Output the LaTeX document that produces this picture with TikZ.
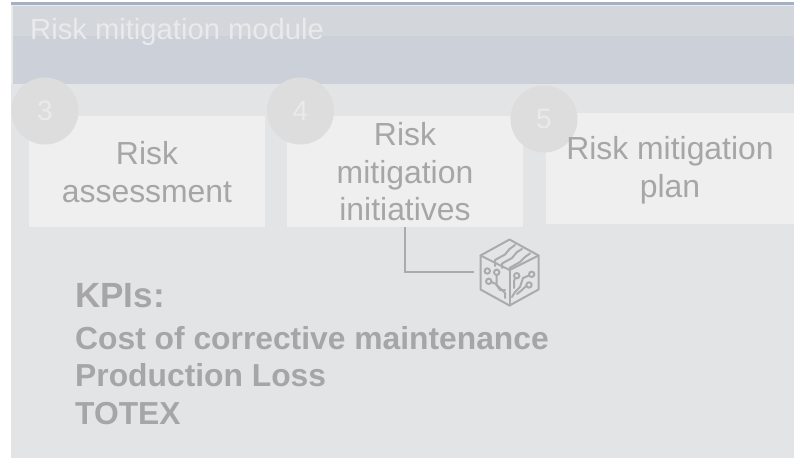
\documentclass[tikz,border=0pt]{standalone}
\usepackage{fontspec}
\setmainfont{Liberation Sans}
\definecolor{bodybg}{HTML}{E3E4E6}
\definecolor{bandA}{HTML}{D3D6DB}
\definecolor{bandB}{HTML}{CCD1D9}
\definecolor{topline}{HTML}{A5B1C0}
\definecolor{boxbg}{HTML}{EFEFEF}
\definecolor{circ}{HTML}{DDDDDD}
\definecolor{txt}{HTML}{A6A6A6}
\definecolor{pale}{HTML}{E9EAEC}
\definecolor{ico}{HTML}{ABABAB}
\tikzset{
  stepbox/.style={fill=boxbg,draw=none,inner sep=0pt,anchor=north west},
  steptext/.style={text=txt,align=center,inner sep=0pt,font=\fontsize{31.9}{37.5}\selectfont},
  numdisc/.style={circle,fill=circ,draw=none,minimum size=67pt,inner sep=0pt,text=pale,font=\fontsize{28}{33}\selectfont},
  kpi/.style={anchor=base west,inner sep=0pt,text=txt,font=\bfseries\fontsize{31.8}{38}\selectfont},
  icoline/.style={draw=ico,line width=2pt,line join=round,line cap=round}
}
\begin{document}
\begin{tikzpicture}[x=1pt,y=-1pt]
\useasboundingbox (0,0) rectangle (794,458);
\fill[white] (0,0) rectangle (794,458);
\fill[bodybg] (11,4) rectangle (794,458);
\fill[bandB] (11,4) rectangle (794,84);
\fill[bandA] (11,6) rectangle (794,36);
\fill[topline] (11,2) rectangle (794,4.5);
\fill[pale] (11,4.5) rectangle (794,6);
\fill[pale] (11,4.5) rectangle (12.5,84);
\node[anchor=base west,inner sep=0pt,text=pale,font=\fontsize{29.2}{34}\selectfont] (title) at (30,39) {Risk mitigation module};

\node[stepbox,minimum width=236pt,minimum height=111pt] (b1) at (29,116) {};
\node[stepbox,minimum width=236pt,minimum height=111pt] (b2) at (287,116) {};
\node[stepbox,minimum width=248pt,minimum height=111pt] (b3) at (546,113) {};
\node[steptext] (t1) at (147,172) {Risk\\assessment};
\node[steptext] (t2) at (405,172) {Risk\\mitigation\\initiatives};
\node[numdisc] (n3) at (45,111) {3};
\node[numdisc] (n4) at (300.5,111) {4};
\node[numdisc] (n5) at (544,119) {5};
\node[steptext] (t3) at (670,170) {Risk mitigation\\plan};

\node[minimum size=70pt,inner sep=0pt] (icon) at (509,272) {};
\draw[draw=ico,line width=2pt] (b2.south) |- (icon.west);
\begin{scope}[icoline]
\draw (509.5,239.5) -- (538.5,255.5) -- (538.5,289.5) -- (509.5,305.5) -- (480.5,289.5) -- (480.5,255.5) -- cycle;
\draw (480.5,255.5) -- (509.5,270) -- (538.5,255.5);
\draw (509.5,270) -- (509.5,305.5);
\draw (495,266) -- (495,260) -- (505,254.5) -- (509.5,249) -- (515,245);
\draw (502,268) -- (502,263.5) -- (512,258) -- (517,252) -- (522,249);
\draw (509.5,270) -- (509.5,268) -- (520,262) -- (525,257) -- (530,253.5);
\draw (487.3,271) circle (2.7);
\draw (496.7,272.3) circle (2.7);
\draw (488.7,281.3) circle (2.7);
\draw (496.7,275.3) -- (496.7,285) -- (505,293) -- (505,298);
\draw (491.5,282) -- (496,284) -- (500,290) -- (505,290);
\draw (516.7,275.7) circle (2.7);
\draw (531.7,274.3) circle (2.7);
\draw (529,285) circle (2.7);
\draw (515,278) -- (514,281) -- (514,288);
\draw (529,275.5) -- (523,278) -- (520,287) -- (515,292) -- (512,297);
\draw (526,286) -- (522,290) -- (517,294);
\end{scope}

\node[kpi,font=\bfseries\fontsize{35}{40}\selectfont] (k0) at (75,307) {KPIs:};
\node[kpi] (k1) at (75,349) {Cost of corrective maintenance};
\node[kpi] (k2) at (75,386) {Production Loss};
\node[kpi] (k3) at (75,424) {TOTEX};
\end{tikzpicture}
\end{document}
